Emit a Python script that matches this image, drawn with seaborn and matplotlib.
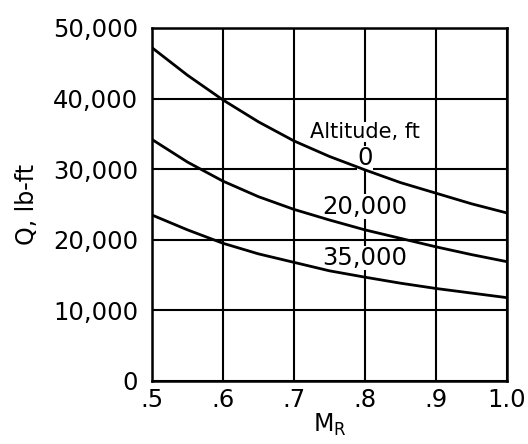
import matplotlib
matplotlib.use("Agg")
import matplotlib.pyplot as plt
import seaborn as sns
import pandas as pd

# Mach number stations
mach = [0.50, 0.55, 0.60, 0.65, 0.70, 0.75, 0.80, 0.85, 0.90, 0.95, 1.00]

# Q, lb-ft, per altitude
q_sea_level = [47200, 43300, 39800, 36700, 34000, 31800, 29900, 28100, 26600, 25100, 23800]
q_20000 = [34200, 31000, 28300, 26100, 24300, 22800, 21400, 20200, 19000, 17900, 16900]
q_35000 = [23500, 21400, 19500, 18000, 16800, 15600, 14700, 13850, 13100, 12450, 11800]

altitudes = ["0", "20,000", "35,000"]
x_ticks = [0.5, 0.6, 0.7, 0.8, 0.9, 1.0]
x_ticklabels = [".5", ".6", ".7", ".8", ".9", "1.0"]
y_ticks = [0, 10000, 20000, 30000, 40000, 50000]
y_ticklabels = ["0", "10,000", "20,000", "30,000", "40,000", "50,000"]

# label anchor heights for the curve annotations
label_y = [31600, 24700, 17400]

sns.set_theme(style="white")
plt.rcParams["font.family"] = ["DejaVu Sans"]
plt.rcParams["text.color"] = "black"
plt.rcParams["axes.labelcolor"] = "black"

frames = []
for alt, vals in zip(altitudes, [q_sea_level, q_20000, q_35000]):
    frames.append(pd.DataFrame({"M": mach, "Q": vals, "alt": alt}))
df = pd.concat(frames, ignore_index=True)

fig = plt.figure(figsize=(5.28, 4.44), dpi=100)
ax = fig.add_axes([0.288, 0.142, 0.672, 0.795])

for xv in x_ticks:
    ax.axvline(xv, color="black", lw=1.5, zorder=1)
for yv in y_ticks:
    ax.axhline(yv, color="black", lw=1.5, zorder=1)

sns.lineplot(data=df, x="M", y="Q", units="alt", estimator=None,
             color="black", lw=2.0, ax=ax, zorder=5, legend=False)

box = dict(facecolor="white", edgecolor="none", pad=0.2)
ax.text(0.8, 35300, "Altitude, ft", ha="center", va="center",
        fontsize=15, bbox=box, zorder=4)
for alt, yv in zip(altitudes, label_y):
    ax.text(0.8, yv, alt, ha="center", va="center", fontsize=17.5,
            bbox=box, zorder=4)

ax.set_xlim(0.5, 1.0)
ax.set_ylim(0, 50000)
ax.set_xticks(x_ticks)
ax.set_xticklabels(x_ticklabels)
ax.set_yticks(y_ticks)
ax.set_yticklabels(y_ticklabels)
ax.tick_params(axis="both", length=0, labelsize=17.5, colors="black")
ax.tick_params(axis="y", pad=10)
ax.tick_params(axis="x", pad=5)
ax.set_xlabel(r"$\mathregular{M_R}$", fontsize=17, labelpad=0)
ax.set_ylabel("Q, lb-ft", fontsize=17, labelpad=10)

for s in ax.spines.values():
    s.set_color("black")
    s.set_linewidth(1.8)
    s.set_zorder(6)

fig.savefig("out.png", dpi=100)
